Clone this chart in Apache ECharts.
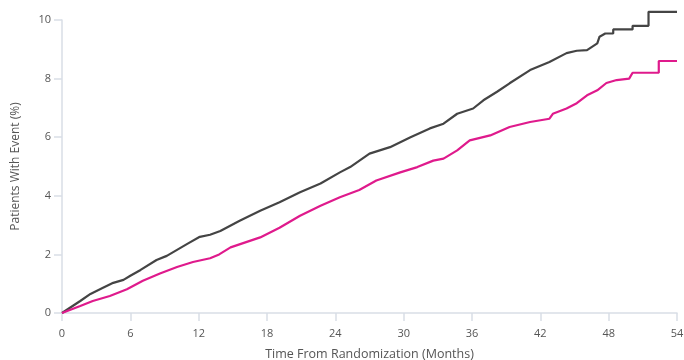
<!DOCTYPE html>
<html>
<head>
<meta charset="utf-8">
<script src="https://cdn.jsdelivr.net/npm/echarts@6/dist/echarts.min.js"></script>
<style>
  html, body { margin: 0; padding: 0; background: #fff; }
  #chart { width: 684px; height: 360px; }
</style>
</head>
<body>
<div id="chart"></div>
<script>
// x ticks (months)
const monthTicks = [0, 6, 12, 18, 24, 30, 36, 42, 48, 54];

// grey arm: [month, % with event]
const greyArm = [
  [0, 0], [1.6, 0.41], [2.5, 0.65], [3.6, 0.86], [4.5, 1.03], [5.4, 1.13],
  [6.0, 1.27], [6.9, 1.47], [8.3, 1.81], [9.2, 1.95], [11.0, 2.36], [12.1, 2.6],
  [13.0, 2.67], [13.9, 2.8], [15.6, 3.15], [17.4, 3.49], [19.1, 3.78], [20.9, 4.12],
  [22.7, 4.42], [24.4, 4.8], [25.3, 4.98], [27.0, 5.44], [28.8, 5.66], [30.6, 6.0],
  [32.3, 6.3], [33.5, 6.46], [34.7, 6.8], [36.1, 6.98], [37.0, 7.26], [38.2, 7.55],
  [39.3, 7.84], [41.1, 8.29], [42.8, 8.57], [44.3, 8.87], [45.2, 8.95], [46.1, 8.97],
  [47.0, 9.2], [47.2, 9.43], [47.7, 9.54], [48.4, 9.54], [48.4, 9.68], [50.1, 9.68],
  [50.1, 9.8], [51.5, 9.8], [51.5, 10.28], [54, 10.28]
];

// magenta arm
const magentaArm = [
  [0, 0], [1.6, 0.24], [2.7, 0.41], [4.2, 0.58], [5.7, 0.81], [7.1, 1.1],
  [8.6, 1.35], [10.1, 1.57], [11.5, 1.74], [13.0, 1.87], [13.8, 2.0], [14.8, 2.24],
  [17.4, 2.58], [19.1, 2.91], [20.9, 3.32], [22.7, 3.66], [24.4, 3.95], [26.1, 4.2],
  [27.6, 4.52], [29.7, 4.8], [31.2, 4.98], [32.6, 5.2], [33.5, 5.27], [34.7, 5.55],
  [35.8, 5.89], [37.6, 6.06], [39.3, 6.35], [41.1, 6.52], [42.8, 6.63], [43.1, 6.8],
  [44.3, 6.98], [45.2, 7.16], [46.1, 7.43], [47.0, 7.6], [47.8, 7.85], [48.7, 7.95],
  [49.8, 8.0], [50.1, 8.2], [52.4, 8.2], [52.4, 8.6], [54, 8.6]
];

const axisGrey = '#d9dee6';
const textGrey = '#555';

let chart = echarts.init(document.getElementById('chart'));
chart.setOption({
  animation: false,
  textStyle: { fontFamily: 'Open Sans' },
  grid: { left: 62, right: 7, top: 20, bottom: 47, outerBoundsMode: 'none' },
  xAxis: {
    type: 'value',
    min: 0,
    max: 54,
    interval: 6,
    name: 'Time From Randomization (Months)',
    nameLocation: 'middle',
    nameGap: 35,
    nameTextStyle: { color: textGrey, fontSize: 12.5, verticalAlign: 'top' },
    axisLine: { show: true, lineStyle: { color: axisGrey, width: 1.5 } },
    axisTick: { show: true, length: 8, lineStyle: { color: axisGrey, width: 1.5 } },
    axisLabel: {
      color: textGrey, fontSize: 11, margin: 15,
      formatter: v => monthTicks.indexOf(v) >= 0 ? String(v) : ''
    },
    splitLine: { show: false }
  },
  yAxis: {
    type: 'value',
    min: 0,
    max: 10,
    interval: 2,
    name: 'Patients With Event (%)',
    nameLocation: 'middle',
    nameGap: 40,
    nameTextStyle: { color: textGrey, fontSize: 12 },
    axisLine: { show: true, lineStyle: { color: axisGrey, width: 1.5 } },
    axisTick: { show: true, length: 8, lineStyle: { color: axisGrey, width: 1.5 } },
    axisLabel: { color: textGrey, fontSize: 11, margin: 11 },
    splitLine: { show: false }
  },
  series: [
    {
      type: 'line',
      data: greyArm,
      showSymbol: false,
      clip: false,
      lineStyle: { color: '#444', width: 2.2 }
    },
    {
      type: 'line',
      data: magentaArm,
      showSymbol: false,
      clip: false,
      lineStyle: { color: '#df1a8c', width: 2.2 }
    }
  ]
});
</script>
</body>
</html>
